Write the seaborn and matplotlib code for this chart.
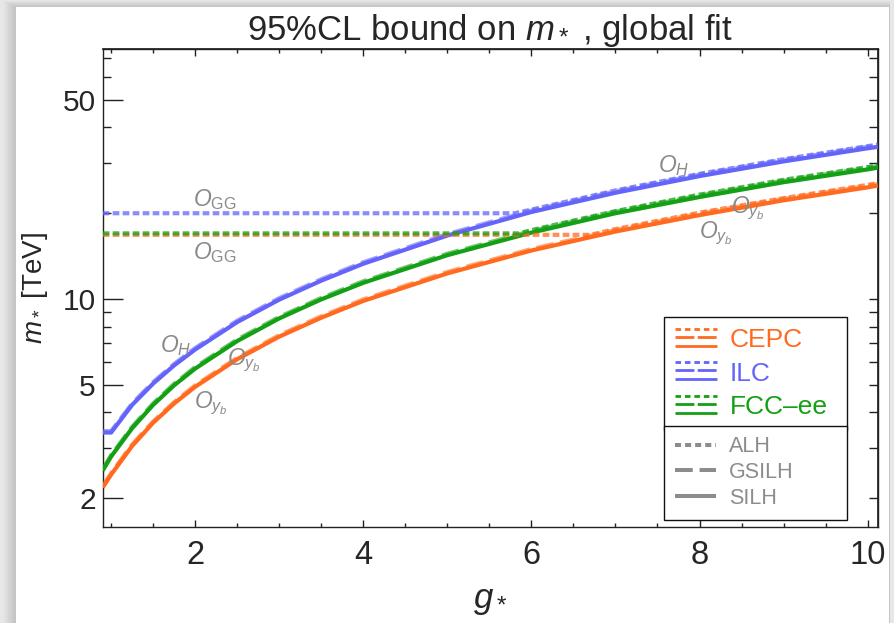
import matplotlib
matplotlib.use("Agg")
import matplotlib.pyplot as plt
import seaborn as sns
import pandas as pd
from matplotlib.lines import Line2D
from matplotlib.legend_handler import HandlerBase
from matplotlib.patches import Rectangle
from matplotlib.ticker import FixedLocator, FixedFormatter, NullFormatter

# ---------------------------------------------------------------- data
colliders = ["CEPC", "ILC", "FCC-ee"]
collider_labels = ["CEPC", "ILC", "FCC\u2013ee"]
colors = {"CEPC": "#FF6A1F", "ILC": "#6464FA", "FCC-ee": "#14A014"}

g_grid = [0.9, 1.0, 1.25, 1.5, 1.75, 2.0, 2.5, 3.0, 3.5, 4.0, 5.0, 6.0,
          7.0, 8.0, 9.0, 10.0, 10.12]

# SILH bounds on m_* [TeV]
silh_cepc = [2.18, 2.42, 3.05, 3.68, 4.30, 4.92, 6.15, 7.38, 8.60, 9.85,
             12.30, 14.80, 17.25, 19.70, 22.20, 24.65, 25.00]
silh_ilc = [3.40, 3.40, 4.25, 5.05, 5.85, 6.65, 8.30, 9.95, 11.60, 13.30,
            16.70, 20.20, 23.60, 27.00, 30.40, 33.80, 34.20]
silh_fcc = [2.50, 2.80, 3.52, 4.25, 4.98, 5.70, 7.12, 8.55, 9.97, 11.40,
            14.25, 17.10, 20.00, 22.80, 25.70, 28.50, 28.90]

# GSILH bounds on m_* [TeV]
gsilh_cepc = [2.21, 2.45, 3.09, 3.72, 4.35, 4.98, 6.22, 7.47, 8.70, 9.97,
              12.45, 14.98, 17.46, 19.94, 22.47, 24.95, 25.30]
gsilh_ilc = [3.44, 3.44, 4.30, 5.11, 5.92, 6.73, 8.40, 10.07, 11.74, 13.46,
             16.90, 20.44, 23.88, 27.32, 30.76, 34.20, 34.60]
gsilh_fcc = [2.53, 2.83, 3.56, 4.30, 5.04, 5.77, 7.21, 8.65, 10.09, 11.54,
             14.42, 17.31, 20.24, 23.07, 26.01, 28.84, 29.25]

# ALH bounds on m_* [TeV] (O_GG plateau, then the O_H / O_yb branch)
alh_g_cepc = [0.9, 6.7, 7.0, 8.0, 9.0, 10.0, 10.12]
alh_cepc = [16.8, 16.8, 17.6, 20.1, 22.6, 25.15, 25.5]
alh_g_ilc = [0.9, 5.8, 6.0, 7.0, 8.0, 9.0, 10.0, 10.12]
alh_ilc = [20.0, 20.0, 20.6, 24.05, 27.5, 30.95, 34.4, 34.8]
alh_g_fcc = [0.9, 5.85, 6.0, 7.0, 8.0, 9.0, 10.0, 10.12]
alh_fcc = [17.0, 17.0, 17.45, 20.35, 23.25, 26.2, 29.05, 29.45]

x_major = [2, 4, 6, 8, 10]
x_minor = [1.0, 1.5, 2.5, 3.0, 3.5, 4.5, 5.0, 5.5, 6.5, 7.0, 7.5, 8.5, 9.0, 9.5, 10.0]
y_major = [2, 5, 10, 50]
y_major_labels = ["2", "5", "10", "50"]
y_minor = [3, 4, 6, 7, 8, 9, 20, 30, 40, 60, 70]

operator_labels = [
    (r"$O_{\mathrm{GG}}$", 2.23, 22.4),
    (r"$O_{\mathrm{GG}}$", 2.23, 14.5),
    (r"$O_H$", 7.69, 29.5),
    (r"$O_{y_b}$", 8.58, 20.8),
    (r"$O_{y_b}$", 8.19, 17.0),
    (r"$O_H$", 1.77, 6.84),
    (r"$O_{y_b}$", 2.58, 6.11),
    (r"$O_{y_b}$", 2.19, 4.31),
]

frames = []
for name, s, gs in [("CEPC", silh_cepc, gsilh_cepc),
                    ("ILC", silh_ilc, gsilh_ilc),
                    ("FCC-ee", silh_fcc, gsilh_fcc)]:
    frames.append(pd.DataFrame({"g": g_grid, "m": s, "collider": name, "model": "SILH"}))
    frames.append(pd.DataFrame({"g": g_grid, "m": gs, "collider": name, "model": "GSILH"}))
for name, gg, mm in [("CEPC", alh_g_cepc, alh_cepc),
                     ("ILC", alh_g_ilc, alh_ilc),
                     ("FCC-ee", alh_g_fcc, alh_fcc)]:
    frames.append(pd.DataFrame({"g": gg, "m": mm, "collider": name, "model": "ALH"}))
df = pd.concat(frames, ignore_index=True)

# ---------------------------------------------------------------- style
sns.set_theme(style="white")
plt.rcParams["font.family"] = ["Liberation Sans", "DejaVu Sans"]
plt.rcParams["mathtext.fontset"] = "custom"
plt.rcParams["mathtext.rm"] = "Liberation Sans"
plt.rcParams["mathtext.it"] = "Liberation Sans:italic"
plt.rcParams["mathtext.bf"] = "Liberation Sans:bold"

W, H = 895, 623
fig = plt.figure(figsize=(W / 100, H / 100), dpi=100)
fig.patch.set_facecolor("#e7e7e7")

# white card with a soft drop shadow
card_x0, card_x1, card_y0 = 16, 889, 7
for k in range(6, 0, -1):
    fig.patches.append(Rectangle(((card_x0 - k * 2) / W, 0),
                                 (card_x1 - card_x0 + k * 2 + 1) / W,
                                 (H - card_y0 + k) / H,
                                 transform=fig.transFigure, facecolor="black",
                                 alpha=0.025, edgecolor="none", zorder=-20))
fig.patches.append(Rectangle((card_x0 / W, 0), (card_x1 - card_x0) / W,
                             (H - card_y0) / H, transform=fig.transFigure,
                             facecolor="white", edgecolor="none", zorder=-10))

ax_l, ax_r, ax_t, ax_b = 102.7, 877.7, 49, 527
ax = fig.add_axes([ax_l / W, 1 - ax_b / H, (ax_r - ax_l) / W, (ax_b - ax_t) / H])
ax.set_facecolor("none")

styles = {
    "SILH": dict(linestyle="-", alpha=1.0, zorder=3),
    "GSILH": dict(linestyle=(0, (4.2, 1.6)), alpha=0.6, zorder=4),
    "ALH": dict(linestyle=(0, (1.6, 0.8)), alpha=0.75, zorder=5),
}
for model in ["SILH", "GSILH", "ALH"]:
    for name in colliders:
        sub = df[(df.collider == name) & (df.model == model)]
        sns.lineplot(data=sub, x="g", y="m", ax=ax, color=colors[name], lw=3.0,
                     estimator=None, sort=False, legend=False,
                     solid_capstyle="butt", dash_capstyle="butt", **styles[model])

ax.set_yscale("log")
ax.set_xlim(0.9, 10.12)
ax.set_ylim(1.585, 75.4)

for txt, gx, my in operator_labels:
    ax.text(gx, my, txt, color="#8a8a8a", fontsize=16.5, ha="center", va="center",
            zorder=6)

# ticks
frame_col = "#222222"
ax.xaxis.set_major_locator(FixedLocator(x_major))
ax.xaxis.set_minor_locator(FixedLocator(x_minor))
ax.xaxis.set_minor_formatter(NullFormatter())
ax.yaxis.set_major_locator(FixedLocator(y_major))
ax.yaxis.set_major_formatter(FixedFormatter(y_major_labels))
ax.yaxis.set_minor_locator(FixedLocator(y_minor))
ax.yaxis.set_minor_formatter(NullFormatter())
ax.tick_params(axis="x", which="major", direction="in", length=5, width=1,
               labelsize=23.5, pad=9, color=frame_col, bottom=True)
ax.tick_params(axis="x", which="minor", direction="in", length=2.6, width=1,
               color=frame_col, bottom=True)
ax.tick_params(axis="y", which="major", direction="in", length=14.5, width=1,
               labelsize=21.5, pad=5, color=frame_col, left=True)
ax.tick_params(axis="y", which="minor", direction="in", length=6, width=1,
               color=frame_col, left=True)
for sp in ax.spines.values():
    sp.set_color(frame_col)
    sp.set_linewidth(1.0)

top = ax.secondary_xaxis("top")
top.xaxis.set_major_locator(FixedLocator(x_major))
top.xaxis.set_minor_locator(FixedLocator(x_minor))
top.tick_params(axis="x", which="major", direction="in", length=5, width=1,
                labeltop=False, color=frame_col)
top.tick_params(axis="x", which="minor", direction="in", length=2.6, width=1,
                color=frame_col)
top.spines["top"].set_color(frame_col)

right = ax.secondary_yaxis("right")
right.yaxis.set_major_locator(FixedLocator(y_major))
right.yaxis.set_minor_locator(FixedLocator(y_minor))
right.yaxis.set_minor_formatter(NullFormatter())
right.tick_params(axis="y", which="both", direction="in", length=6.3, width=1,
                  labelright=False, color=frame_col)
right.spines["right"].set_color(frame_col)

ax.set_xlabel(r"$g_*$", fontsize=25, labelpad=10)
ax.set_ylabel(r"$m_*$ [TeV]", fontsize=20, labelpad=9)
ax.set_title(r"95%CL bound on $m_*$ , global fit", fontsize=25, pad=3)


# ---------------------------------------------------------------- legends
class StackedHandler(HandlerBase):
    def create_artists(self, legend, orig_handle, xdescent, ydescent,
                       width, height, fontsize, trans):
        col = orig_handle.get_color()
        specs = [(1.0, (0, (2.0, 1.4))), (0.55, (0, (6.8, 1.2))), (0.05, "-")]
        arts = []
        for frac, ls in specs:
            y = -ydescent + height * frac
            ln = Line2D([-xdescent, -xdescent + width], [y, y], color=col,
                        lw=2.0, linestyle=ls, solid_capstyle="butt",
                        dash_capstyle="butt")
            ln.set_transform(trans)
            arts.append(ln)
        return arts


ax_w, ax_h = ax_r - ax_l, ax_b - ax_t
lx0 = (664 - ax_l) / ax_w
lw_ = (847 - 664) / ax_w
upper_top = (ax_b - 317) / ax_h
split = (ax_b - 425.5) / ax_h
lower_bot = (ax_b - 518) / ax_h

col_handles = [Line2D([], [], color=colors[c]) for c in colliders]
leg1 = ax.legend(col_handles, collider_labels,
                 handler_map={Line2D: StackedHandler()},
                 loc="upper left", bbox_to_anchor=(lx0, split, lw_, upper_top - split),
                 mode="expand", fontsize=19, handlelength=1.58, handleheight=0.66,
                 handletextpad=0.5, labelspacing=0.36, borderpad=0.42,
                 borderaxespad=0, frameon=True, fancybox=False, framealpha=1)
for t, c in zip(leg1.get_texts(), colliders):
    t.set_color(colors[c])
leg1.get_frame().set_edgecolor("#111111")
leg1.get_frame().set_linewidth(1.0)
leg1.set_zorder(10)
ax.add_artist(leg1)

gray = "#8c8c8c"
model_handles = [
    Line2D([], [], color=gray, lw=2.9, linestyle=(0, (1.5, 1.0)), dash_capstyle="butt"),
    Line2D([], [], color=gray, lw=2.9, linestyle=(0, (4.4, 1.7)), dash_capstyle="butt"),
    Line2D([], [], color=gray, lw=2.9, linestyle="-", solid_capstyle="butt"),
]
leg2 = ax.legend(model_handles, ["ALH", "GSILH", "SILH"],
                 loc="upper left", bbox_to_anchor=(lx0, lower_bot, lw_, split - lower_bot),
                 mode="expand", fontsize=15.5, handlelength=1.93,
                 handletextpad=0.6, labelspacing=0.22, borderpad=0.5,
                 borderaxespad=0, frameon=True, fancybox=False, framealpha=1)
for t in leg2.get_texts():
    t.set_color(gray)
leg2.get_frame().set_edgecolor("#111111")
leg2.get_frame().set_linewidth(1.0)
leg2.set_zorder(10)

fig.savefig("out.png", dpi=100, facecolor=fig.get_facecolor())
